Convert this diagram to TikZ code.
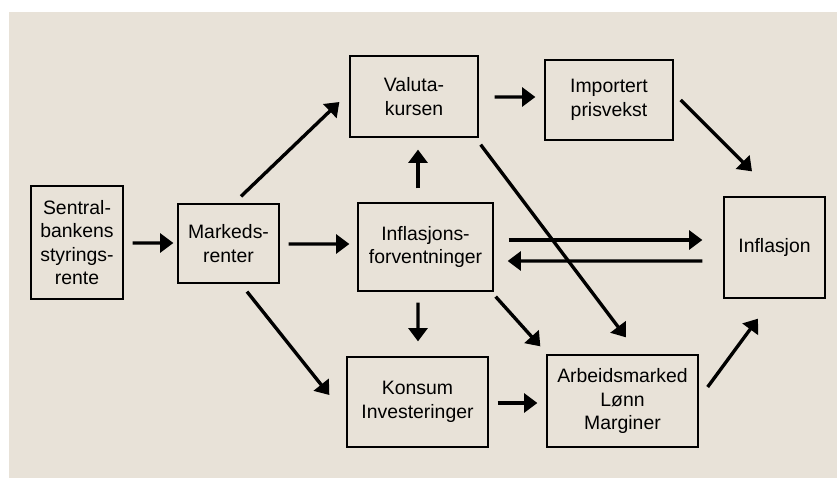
\documentclass[tikz,border=0pt]{standalone}
\usepackage{fontspec}
\setmainfont{Liberation Sans}
\usepackage{xcolor}
\usepackage{tikz}
\usetikzlibrary{arrows.meta}
\definecolor{paper}{HTML}{E8E2D8}

\begin{document}
\begin{tikzpicture}[
    x=0.025cm, y=-0.025cm,
    box/.style={rectangle,draw,line width=0.9pt,align=center,inner sep=2pt,font=\fontsize{13.8}{16.6}\selectfont},
    arrow/.style={-{Triangle[length=0.33cm,width=0.47cm]},line width=2.4pt}
]
\useasboundingbox (0,0) rectangle (837,479);
\fill[paper] (9,12) rectangle (837,478);
\node[box,minimum width=2.3cm,minimum height=2.825cm] (sentral) at (77,242.5) {Sentral-\\bankens\\styrings-\\rente};
\node[box,minimum width=2.525cm,minimum height=1.975cm] (markeds) at (228.5,243.5) {Markeds-\\renter};
\node[box,minimum width=3.2cm,minimum height=2.025cm] (valuta) at (414,96.5) {Valuta-\\kursen};
\node[box,minimum width=3.2cm,minimum height=2.0cm] (import) at (609,100) {Importert\\prisvekst};
\node[box,minimum width=3.375cm,minimum height=2.2cm] (forv) at (425.5,247) {Inflasjons-\\forventninger};
\node[box,minimum width=2.525cm,minimum height=2.525cm] (infl) at (774.5,247.5) {Inflasjon};
\node[box,minimum width=3.525cm,minimum height=2.25cm] (konsum) at (417.5,402) {Konsum\\Investeringer};
\node[box,minimum width=3.775cm,minimum height=2.3cm] (arbeid) at (622.5,401) {Arbeidsmarked\\Lønn\\Marginer};
\draw[arrow] ([shift={(9,0.5)}]sentral.east) -- ([shift={(-4,-0.5)}]markeds.west);
\draw[arrow] ([shift={(12.5,-7)}]markeds.north) -- ([shift={(-10,5.5)}]valuta.west);
\draw[arrow] ([shift={(9,0.5)}]markeds.east) -- ([shift={(-8,-3)}]forv.west);
\draw[arrow] ([shift={(18.5,8)}]markeds.south) -- ([shift={(-17,-7)}]konsum.west);
\draw[arrow] ([shift={(-7.5,-14)}]forv.north) -- ([shift={(4,12)}]valuta.south);
\draw[arrow] ([shift={(16,0.5)}]valuta.east) -- ([shift={(-9,-3)}]import.west);
\draw[arrow] ([shift={(7,0)}]import.east) -- ([shift={(-22.5,-25)}]infl.north);
\draw[arrow] ([shift={(2,7)}]valuta.south east) -- ([shift={(3.5,-17)}]arbeid.north);
\draw[arrow] ([shift={(15,-7)}]forv.east) -- ([shift={(-21,-7.5)}]infl.west);
\draw[arrow] ([shift={(-21,13.5)}]infl.west) -- ([shift={(14,14)}]forv.east);
\draw[arrow] ([shift={(-7.5,11)}]forv.south) -- ([shift={(0.5,-15)}]konsum.north);
\draw[arrow] ([shift={(2,5)}]forv.south east) -- ([shift={(-6,-8)}]arbeid.north west);
\draw[arrow] ([shift={(9,1)}]konsum.east) -- ([shift={(-9,2)}]arbeid.west);
\draw[arrow] ([shift={(9,-14)}]arbeid.east) -- ([shift={(-16.5,20)}]infl.south);
\end{tikzpicture}
\end{document}
